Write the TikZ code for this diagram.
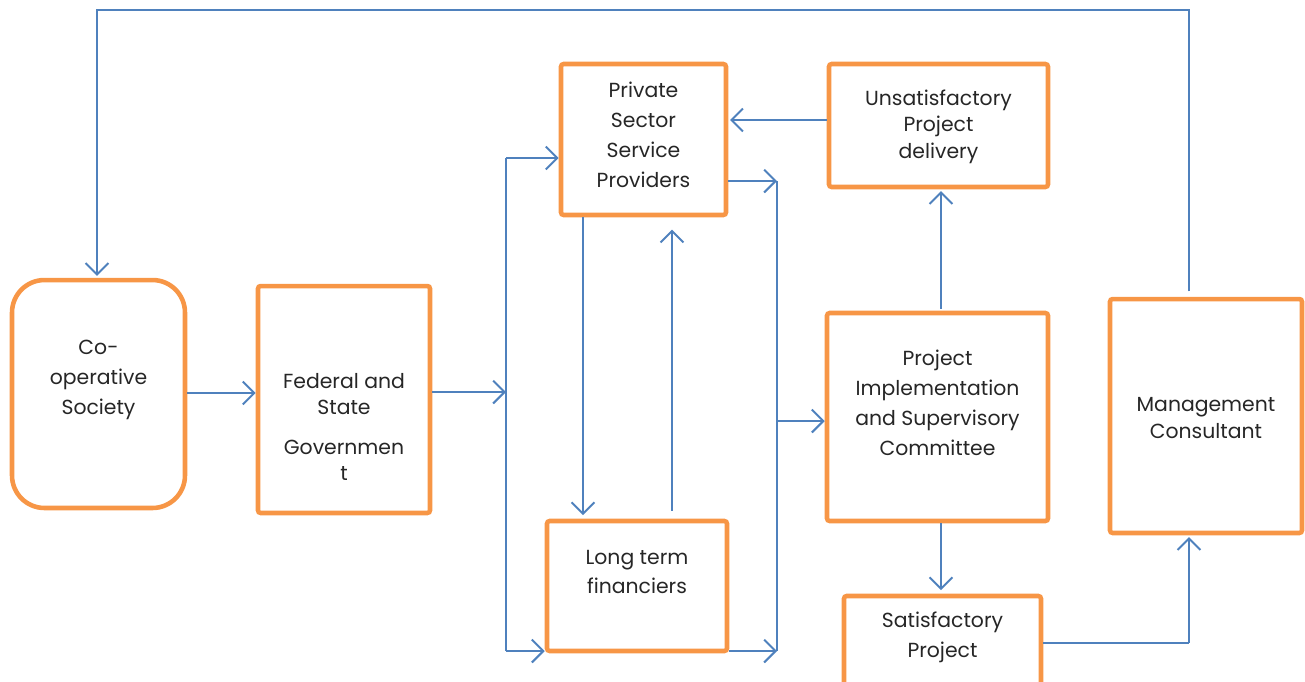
\documentclass[tikz,border=0pt]{standalone}
\usepackage{fontspec}
\setmainfont{Poppins}
\usetikzlibrary{arrows.meta}
\definecolor{orng}{HTML}{F79646}
\definecolor{blu}{HTML}{4F81BD}
\begin{document}
\begin{tikzpicture}[x=0.02cm,y=-0.02cm,
  box/.style={draw=orng, line width=2.6pt, rounded corners=1.5pt, inner sep=0pt},
  txt/.style={align=center, font=\fontsize{11.6}{17}\selectfont, text=black!85},
  ln/.style={draw=blu, line width=1.15pt},
  arr/.style={ln, -{Straight Barb[length=6.5pt,width=13pt,line width=1.15pt]}}]
\useasboundingbox (0,0) rectangle (1305,681);
% boxes
\node[box, rounded corners=0.65cm, minimum width=3.46cm, minimum height=4.56cm,
  label={[txt, yshift=0.28cm]center:Co-\\operative\\Society}] (coop) at (98.5,394) {};
\node[box, minimum width=3.44cm, minimum height=4.54cm,
  label={[txt, font=\fontsize{11.6}{14.7}\selectfont, yshift=-0.55cm]center:Federal and\\State\\[8pt]Governmen\\t}] (fed) at (344,399.5) {};
\node[box, minimum width=3.3cm, minimum height=3.02cm,
  label={[txt, yshift=0.09cm]center:Private\\Sector\\Service\\Providers}] (psp) at (643.5,139.5) {};
\node[box, minimum width=4.38cm, minimum height=2.46cm,
  label={[txt, font=\fontsize{11.6}{15}\selectfont, yshift=-0.02cm]center:Unsatisfactory\\Project\\delivery}] (uns) at (938.5,125.5) {};
\node[box, minimum width=4.42cm, minimum height=4.16cm,
  label={[txt, yshift=0.28cm]center:Project\\Implementation\\and Supervisory\\Committee}] (pic) at (937.5,417) {};
\node[box, minimum width=3.84cm, minimum height=4.68cm,
  label={[txt, font=\fontsize{11.6}{15.3}\selectfont, yshift=-0.04cm]center:Management\\Consultant}] (mc) at (1206,416) {};
\node[box, minimum width=3.6cm, minimum height=2.6cm,
  label={[txt, yshift=0.28cm]center:Long term\\financiers}] (ltf) at (637,586) {};
\node[box, minimum width=3.94cm, minimum height=2.08cm,
  label={[txt, yshift=0.22cm]center:Satisfactory\\Project}] (sat) at (942.5,648) {};
% junctions
\coordinate (jL) at (506,392);
\coordinate (jLt) at (506,158);
\coordinate (jLb) at (506,651);
\coordinate (jRt) at (777,181);
\coordinate (jRb) at (777,651);
\coordinate (jRm) at (777,421);
\coordinate (top1) at (1189,10);
\coordinate (top2) at (97,10);
\coordinate (br) at (1189,643);
% connectors
\draw[arr] (coop.east |- 0,393) -- (fed.west |- 0,393);
\draw[arr] (fed.east |- jL) -- (jL);
\draw[ln] (jLt) -- (jLb);
\draw[arr] (jLt) -- (jLt -| psp.west);
\draw[arr] (jLb) -- (jLb -| ltf.west);
\draw[arr] (psp.east |- jRt) -- (jRt);
\draw[ln] (jRt) -- (jRb);
\draw[arr] (ltf.east |- jRb) -- (jRb);
\draw[arr] (jRm) -- (jRm -| pic.west);
\draw[arr, shorten >=2pt] (583,0 |- psp.south) -- (583,0 |- ltf.north);
\draw[arr, shorten <=4.5pt, shorten >=7pt] (672,0 |- ltf.north) -- (672,0 |- psp.south);
\draw[arr, shorten <=1pt, shorten >=1pt] (941,0 |- pic.north) -- (941,0 |- uns.south);
\draw[arr, shorten >=1pt] (uns.west |- 0,120) -- (psp.east |- 0,120);
\draw[arr, shorten >=2pt] (941,0 |- pic.south) -- (941,0 |- sat.north);
\draw[ln] (sat.east |- br) -- (br);
\draw[arr, shorten >=1pt] (br) -- (br |- mc.south);
\draw[arr, shorten <=3pt, shorten >=1pt] (mc.north -| top1) -- (top1) -- (top2) -- (top2 |- coop.north);
\end{tikzpicture}
\end{document}
